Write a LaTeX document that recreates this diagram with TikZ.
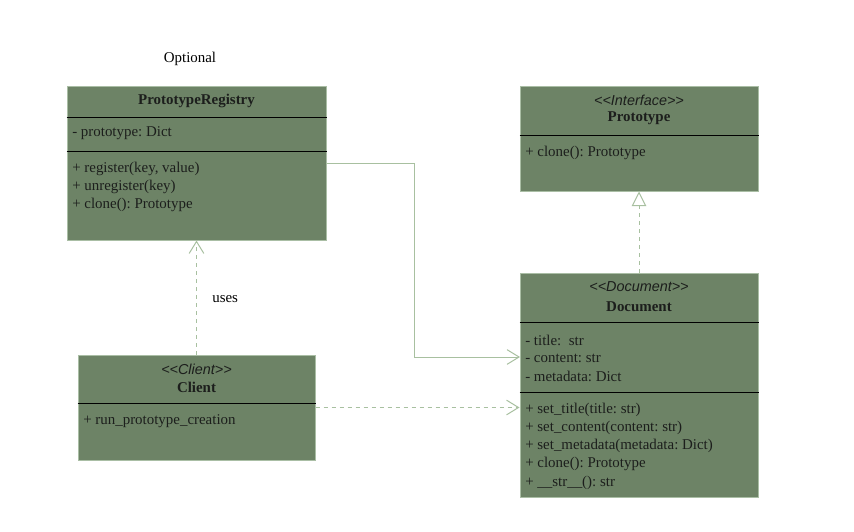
\documentclass[tikz,border=0pt]{standalone}
\usepackage{fontspec}
\setmainfont{Liberation Serif}
\newfontfamily\stereofont{Liberation Sans}
\usetikzlibrary{arrows.meta}
\frenchspacing

\definecolor{umlfill}{RGB}{109,131,102}
\definecolor{umledge}{RGB}{170,190,165}
\definecolor{linkgreen}{RGB}{168,192,160}
\definecolor{umltext}{RGB}{28,30,28}

\tikzset{
    umlbox/.style={draw=umledge,fill=umlfill,line width=0.75pt,inner sep=0pt},
    member/.style={anchor=west,inner sep=0pt,yshift=-1.2pt,text=umltext,font=\fontsize{11.2}{13}\selectfont},
    classname/.style={inner sep=0pt,yshift=-1.2pt,text=umltext,font=\fontsize{11.2}{13}\selectfont\bfseries},
    stereo/.style={inner sep=0pt,yshift=-0.8pt,text=umltext,font=\fontsize{10.8}{13}\stereofont\itshape},
    link/.style={draw=linkgreen,line width=0.75pt},
    dep/.style={link,dash pattern=on 3pt off 3pt},
    openhead/.style={-{Straight Barb[length=9pt,width=11pt,line width=0.75pt]}},
    realize/.style={-{Triangle[open,length=11pt,width=11pt,fill=white,line width=0.75pt]}}
}

\begin{document}
\begin{tikzpicture}[x=0.75pt,y=-0.75pt,line cap=butt,line join=miter]
        \fill[white] (0,0) rectangle (854,532);
        \useasboundingbox (0,0) rectangle (854,532);

        \node[umlbox,minimum width=194.25pt,minimum height=115.5pt] (reg) at (196.5,163) {};
        \node[umlbox,minimum width=178.5pt,minimum height=78.75pt] (proto) at (639,138.5) {};
        \node[umlbox,minimum width=178.5pt,minimum height=168pt] (doc) at (639,385) {};
        \node[umlbox,minimum width=177.75pt,minimum height=78.75pt] (client) at (196.5,407.5) {};

        \draw[black,line width=0.6pt] (reg.west |- 0,117) -- (reg.east |- 0,117);
        \draw[black,line width=0.6pt] (reg.west |- 0,151) -- (reg.east |- 0,151);
        \draw[black,line width=0.6pt] (proto.west |- 0,135) -- (proto.east |- 0,135);
        \draw[black,line width=0.6pt] (doc.west |- 0,322) -- (doc.east |- 0,322);
        \draw[black,line width=0.6pt] (doc.west |- 0,392) -- (doc.east |- 0,392);
        \draw[black,line width=0.6pt] (client.west |- 0,403) -- (client.east |- 0,403);

        \node[inner sep=0pt,yshift=-1.2pt,font=\fontsize{11.2}{13}\selectfont] (optional) at (190,57) {Optional};

        \node[classname] (reg-name) at (196.5,99) {PrototypeRegistry};
        \node[member] (reg-a1) at (72,132) {- prototype: Dict};
        \foreach \m [count=\i] in {{+ register(key, value)},{+ unregister(key)},{+ clone(): Prototype}} {
            \node[member] (reg-m\i) at (72,149+18*\i) {\m};
        }

        \node[stereo] (proto-st) at (639,99) {<{}<Interface>{}>};
        \node[classname] (proto-name) at (639,117) {Prototype};
        \node[member] (proto-m1) at (525,151) {+ clone(): Prototype};

        \node[stereo] (doc-st) at (639,286) {<{}<Document>{}>};
        \node[classname] (doc-name) at (639,305) {Document};
        \foreach \a [count=\i] in {{- title:\ \ str},{- content: str},{- metadata: Dict}} {
            \node[member] (doc-a\i) at (525,321+18*\i) {\a};
        }
        \foreach \m [count=\i] in {{+ set\_title(title: str)},{+ set\_content(content: str)},{+ set\_metadata(metadata: Dict)},{+ clone(): Prototype},{+ \_\_str\_\_(): str}} {
            \node[member] (doc-m\i) at (525,390+18.2*\i) {\m};
        }

        \node[stereo] (client-st) at (196.5,368) {<{}<Client>{}>};
        \node[classname] (client-name) at (196.5,386) {Client};
        \node[member] (client-m1) at (83,420) {+ run\_prototype\_creation};

        \coordinate (doc-in) at (520,357);
        \draw[link,openhead] (reg.east) -| (414,357) -- (doc-in);
        \draw[dep,realize] (doc.north) -- (proto.south);
        \draw[dep,openhead] (client.north) -- (reg.south)
            node[pos=0.5,right=11.5pt,yshift=-1.5pt,inner sep=0pt,text=black,font=\fontsize{11.2}{13}\selectfont] (uses) {uses};
        \draw[dep,openhead] (client.east) -- (client.east -| doc.west);
    \end{tikzpicture}
\end{document}
